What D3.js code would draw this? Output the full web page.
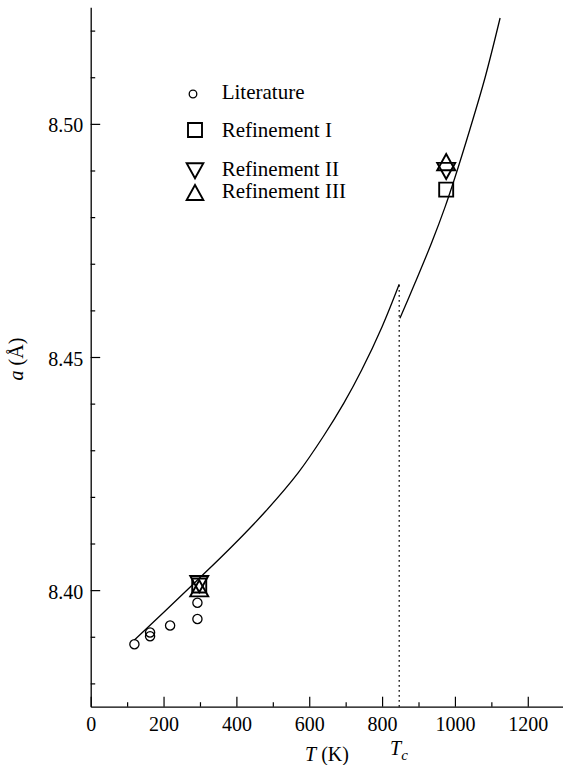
<!DOCTYPE html>
<html>
<head>
<meta charset="utf-8">
<script src="https://cdn.jsdelivr.net/npm/d3@7"></script>
<style>
  html, body { margin: 0; padding: 0; background: #fff; }
  svg text { font-family: 'Liberation Serif', Tinos, 'Times New Roman', Times, 'DejaVu Serif', serif; fill: #000; }
</style>
</head>
<body>
<svg id="chart" width="563" height="765"></svg>
<script>
// fitted curve, below and above Tc
const lowT = [120, 200, 287, 387, 479, 570, 639, 695, 744, 800, 847];
const lowA = [8.3893, 8.3952, 8.4017, 8.4093, 8.4168, 8.4252, 8.4330, 8.4401, 8.4472, 8.4565, 8.4656];
const highT = [849, 890, 936, 973, 1000, 1041, 1083, 1124];
const highA = [8.4583, 8.4658, 8.4745, 8.4822, 8.4885, 8.4988, 8.5100, 8.5227];

// measured points
const litT = [120, 163, 163, 218, 293, 293];
const litA = [8.3884, 8.3909, 8.3901, 8.3924, 8.3973, 8.3938];
const ref1T = [298, 976];
const ref1A = [8.4010, 8.4859];
const ref2T = [298, 976];
const ref2A = [8.4013, 8.4899];
const ref3T = [298, 976];
const ref3A = [8.4004, 8.4918];

const Tc = 847;
const TcTop = 8.4656;

const xMajor = [0, 200, 400, 600, 800, 1000, 1200];
const xMinor = [100, 300, 500, 700, 900, 1100];
const yMajor = [8.40, 8.45, 8.50];
const yMinor = [8.38, 8.39, 8.41, 8.42, 8.43, 8.44, 8.46, 8.47, 8.48, 8.49, 8.51, 8.52];

const legendNames = ['Literature', 'Refinement I', 'Refinement II', 'Refinement III'];

const svg = d3.select('#chart');
const x = d3.scaleLinear().domain([0, 1300]).range([90.7, 564.2]);
const y = d3.scaleLinear().domain([8.375, 8.525]).range([706.7, 7.3]);

// triangles centred on their bounding box
const triUp = {
  draw(ctx, size) {
    const w = Math.sqrt(size), h = w * 0.9;
    ctx.moveTo(0, -h / 2); ctx.lineTo(w / 2, h / 2); ctx.lineTo(-w / 2, h / 2); ctx.closePath();
  }
};
const triDown = {
  draw(ctx, size) {
    const w = Math.sqrt(size), h = w * 0.9;
    ctx.moveTo(0, h / 2); ctx.lineTo(w / 2, -h / 2); ctx.lineTo(-w / 2, -h / 2); ctx.closePath();
  }
};
const shapes = [
  d3.symbol().type(d3.symbolCircle).size(Math.PI * 4.6 * 4.6),
  d3.symbol().type(d3.symbolSquare).size(14 * 14),
  d3.symbol().type(triDown).size(18 * 18),
  d3.symbol().type(triUp).size(18 * 18)
];

// axes
const styleAxis = g => {
  g.attr('font-family', null);
  g.select('.domain').attr('stroke', '#000').attr('stroke-width', 1.3);
  g.selectAll('.tick line').attr('stroke', '#000').attr('stroke-width', 1.2);
  g.selectAll('.tick text').attr('font-size', 20);
};

svg.append('g')
  .attr('transform', `translate(0, ${y.range()[0]})`)
  .call(d3.axisBottom(x).tickValues(xMinor).tickSize(-4.5).tickSizeOuter(0).tickFormat(''))
  .call(styleAxis);
svg.append('g')
  .attr('transform', `translate(0, ${y.range()[0]})`)
  .call(d3.axisBottom(x).tickValues(xMajor).tickSize(-10).tickSizeOuter(0).tickPadding(10).tickFormat(d3.format('d')))
  .call(styleAxis)
  .call(g => g.select('.domain').remove());

svg.append('g')
  .attr('transform', `translate(${x.range()[0]}, 0)`)
  .call(d3.axisLeft(y).tickValues(yMinor).tickSize(-4.5).tickSizeOuter(0).tickFormat(''))
  .call(styleAxis);
svg.append('g')
  .attr('transform', `translate(${x.range()[0]}, 0)`)
  .call(d3.axisLeft(y).tickValues(yMajor).tickSize(-9.5).tickSizeOuter(0).tickPadding(7.4).tickFormat(d3.format('.2f')))
  .call(styleAxis)
  .call(g => g.select('.domain').remove())
  .call(g => g.selectAll('.tick text').attr('dy', '0.4em'));

// Tc marker
svg.append('line')
  .attr('x1', x(Tc)).attr('x2', x(Tc))
  .attr('y1', y.range()[0]).attr('y2', y(TcTop))
  .attr('stroke', '#000').attr('stroke-width', 1.2)
  .attr('stroke-dasharray', '1.6,3.4');

// curve
const line = d3.line().x(d => x(d[0])).y(d => y(d[1])).curve(d3.curveCatmullRom.alpha(0.5));
[[lowT, lowA], [highT, highA]].forEach(([ts, as]) => {
  svg.append('path')
    .datum(ts.map((t, i) => [t, as[i]]))
    .attr('d', line)
    .attr('fill', 'none')
    .attr('stroke', '#000')
    .attr('stroke-width', 1.3);
});

// markers
const series = [[litT, litA], [ref1T, ref1A], [ref2T, ref2A], [ref3T, ref3A]];
series.forEach(([ts, as], k) => {
  svg.append('g').selectAll('path')
    .data(ts.map((t, i) => [t, as[i]]))
    .join('path')
    .attr('transform', d => `translate(${x(d[0])}, ${y(d[1])})`)
    .attr('d', shapes[k])
    .attr('fill', 'none')
    .attr('stroke', '#000')
    .attr('stroke-width', k === 0 ? 1.3 : 1.9);
});

// legend
const legendY = [94, 130, 170.8, 192.5];
const legendBase = [99.3, 136.5, 176, 198.3];
const legendShapes = [
  d3.symbol().type(d3.symbolCircle).size(Math.PI * 3.8 * 3.8),
  d3.symbol().type(d3.symbolSquare).size(14 * 14),
  d3.symbol().type(triDown).size(16.7 * 16.7),
  d3.symbol().type(triUp).size(16.7 * 16.7)
];
legendNames.forEach((name, i) => {
  svg.append('path')
    .attr('transform', `translate(${i === 0 ? 193 : 195}, ${legendY[i]})`)
    .attr('d', legendShapes[i])
    .attr('fill', 'none')
    .attr('stroke', '#000')
    .attr('stroke-width', i === 0 ? 1.3 : 1.9);
  svg.append('text')
    .attr('x', 221.7)
    .attr('y', legendBase[i])
    .attr('font-size', 21)
    .text(name);
});

// axis titles
const xt = svg.append('text').attr('x', 305).attr('y', 761).attr('font-size', 20);
xt.append('tspan').attr('font-style', 'italic').text('T');
xt.append('tspan').text(' (K)');

const tc = svg.append('text').attr('x', 390).attr('y', 755).attr('font-size', 20);
tc.append('tspan').attr('font-style', 'italic').text('T');
tc.append('tspan').attr('font-style', 'italic').attr('font-size', 15).attr('dy', 5).text('c');

const yt = svg.append('text')
  .attr('transform', 'translate(22.5, 359) rotate(-90)')
  .attr('text-anchor', 'middle')
  .attr('font-size', 20);
yt.append('tspan').attr('font-style', 'italic').text('a');
yt.append('tspan').text(' (Å)');
</script>
</body>
</html>
